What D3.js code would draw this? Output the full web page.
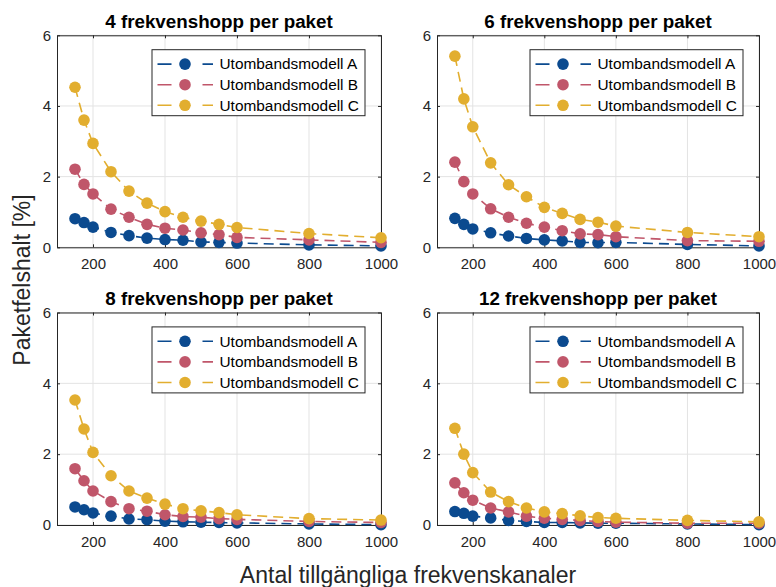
<!DOCTYPE html>
<html>
<head>
<meta charset="utf-8">
<script src="https://cdn.jsdelivr.net/npm/d3@7"></script>
<style>
  html, body { margin: 0; padding: 0; background: #fff; }
  svg { display: block; font-family: "Liberation Sans", Arial, Helvetica, sans-serif; }
</style>
</head>
<body>
<svg id="chart" width="776" height="587"></svg>
<script>
// Number of available channels (x values shared by all series)
const channels = [150, 175, 200, 250, 300, 350, 400, 450, 500, 550, 600, 800, 1000];

// Panel titles
const panelTitles = [
  "4 frekvenshopp per paket",
  "6 frekvenshopp per paket",
  "8 frekvenshopp per paket",
  "12 frekvenshopp per paket"
];

const seriesNames = ["Utombandsmodell A", "Utombandsmodell B", "Utombandsmodell C"];
const seriesColors = ["#0b4a8f", "#c0566a", "#e2ae2f"];

// Packet error rate [%] per panel, model A / B / C
const hop4A  = [0.81, 0.70, 0.57, 0.42, 0.33, 0.26, 0.22, 0.20, 0.15, 0.14, 0.12, 0.07, 0.04];
const hop4B  = [2.21, 1.78, 1.51, 1.08, 0.85, 0.65, 0.54, 0.49, 0.41, 0.36, 0.28, 0.21, 0.14];
const hop4C  = [4.53, 3.60, 2.94, 2.14, 1.59, 1.25, 1.01, 0.85, 0.74, 0.65, 0.56, 0.39, 0.27];

const hop6A  = [0.82, 0.65, 0.52, 0.41, 0.32, 0.25, 0.21, 0.18, 0.14, 0.13, 0.14, 0.08, 0.04];
const hop6B  = [2.41, 1.86, 1.51, 1.09, 0.85, 0.68, 0.57, 0.47, 0.38, 0.36, 0.30, 0.19, 0.17];
const hop6C  = [5.41, 4.20, 3.41, 2.39, 1.77, 1.43, 1.13, 0.96, 0.79, 0.71, 0.60, 0.42, 0.30];

const hop8A  = [0.51, 0.43, 0.34, 0.25, 0.17, 0.15, 0.11, 0.09, 0.08, 0.07, 0.06, 0.03, 0.01];
const hop8B  = [1.59, 1.25, 0.96, 0.66, 0.46, 0.39, 0.29, 0.24, 0.22, 0.18, 0.16, 0.10, 0.07];
const hop8C  = [3.53, 2.71, 2.05, 1.39, 0.96, 0.76, 0.59, 0.46, 0.40, 0.35, 0.29, 0.18, 0.14];

const hop12A = [0.38, 0.33, 0.25, 0.20, 0.13, 0.10, 0.07, 0.07, 0.06, 0.05, 0.05, 0.03, 0.01];
const hop12B = [1.19, 0.91, 0.70, 0.48, 0.37, 0.25, 0.19, 0.16, 0.13, 0.10, 0.08, 0.05, 0.05];
const hop12C = [2.73, 2.00, 1.48, 0.93, 0.66, 0.48, 0.37, 0.32, 0.26, 0.21, 0.19, 0.13, 0.09];

const panelData = [
  [hop4A, hop4B, hop4C],
  [hop6A, hop6B, hop6C],
  [hop8A, hop8B, hop8C],
  [hop12A, hop12B, hop12C]
];

const xTicks = [200, 400, 600, 800, 1000];
const yTicks = [0, 2, 4, 6];

const svg = d3.select("#chart");
const axisColor = "#262626";
const gridColor = "#e3e3e3";
const fontFamily = "'Liberation Sans', Arial, Helvetica, sans-serif";

// Panel boxes (left, top, width, height)
const panels = [
  { x: 57,  y: 35.3, w: 324, h: 212 },
  { x: 437, y: 35.3, w: 322, h: 212 },
  { x: 57,  y: 312.5, w: 324, h: 212.5 },
  { x: 437, y: 312.5, w: 322, h: 212.5 }
];

panels.forEach((p, i) => {
  const g = svg.append("g").attr("transform", `translate(${p.x},${p.y})`);
  const x = d3.scaleLinear().domain([100, 1000]).range([0, p.w]);
  const y = d3.scaleLinear().domain([0, 6]).range([p.h, 0]);

  // grid
  g.append("g").selectAll("line").data(xTicks).join("line")
    .attr("x1", d => x(d)).attr("x2", d => x(d))
    .attr("y1", 0).attr("y2", p.h)
    .attr("stroke", gridColor).attr("stroke-width", 1);
  g.append("g").selectAll("line").data(yTicks).join("line")
    .attr("y1", d => y(d)).attr("y2", d => y(d))
    .attr("x1", 0).attr("x2", p.w)
    .attr("stroke", gridColor).attr("stroke-width", 1);

  // axes: box outline with inward ticks
  const fmt = d3.format("d");
  const xAxis = d3.axisBottom(x).tickValues(xTicks).tickFormat(fmt).tickSizeInner(-3).tickSizeOuter(0).tickPadding(11);
  const yAxis = d3.axisLeft(y).tickValues(yTicks).tickFormat(fmt).tickSizeInner(-3).tickSizeOuter(0).tickPadding(6);
  const xTop = d3.axisTop(x).tickValues(xTicks).tickSizeInner(-3).tickSizeOuter(0).tickFormat("");
  const yRight = d3.axisRight(y).tickValues(yTicks).tickSizeInner(-3).tickSizeOuter(0).tickFormat("");

  [
    g.append("g").attr("transform", `translate(0,${p.h})`).call(xAxis),
    g.append("g").call(yAxis),
    g.append("g").call(xTop),
    g.append("g").attr("transform", `translate(${p.w},0)`).call(yRight)
  ].forEach(a => {
    a.selectAll("path").attr("stroke", axisColor).attr("stroke-width", 1);
    a.selectAll("line").attr("stroke", axisColor);
    a.selectAll("text").attr("fill", axisColor).style("font-size", "15px")
      .style("font-family", fontFamily);
  });

  // title
  g.append("text")
    .attr("x", p.w / 2).attr("y", -7.8)
    .attr("text-anchor", "middle")
    .style("font-weight", "bold").style("font-size", "18.8px")
    .attr("fill", "#000")
    .text(panelTitles[i]);

  // series
  const line = d3.line().x((d, k) => x(channels[k])).y(d => y(d));
  panelData[i].forEach((vals, s) => {
    const sg = g.append("g");
    sg.append("path").datum(vals)
      .attr("d", line)
      .attr("fill", "none")
      .attr("stroke", seriesColors[s])
      .attr("stroke-width", 1.6)
      .attr("stroke-dasharray", "10,6");
    sg.selectAll("circle").data(vals).join("circle")
      .attr("cx", (d, k) => x(channels[k]))
      .attr("cy", d => y(d))
      .attr("r", 5.8)
      .attr("fill", seriesColors[s]);
  });

  // legend
  const lg = g.append("g").attr("transform", `translate(${p.w - 229},${14.4})`);
  lg.append("rect").attr("width", 213).attr("height", 66)
    .attr("fill", "#fff").attr("stroke", axisColor).attr("stroke-width", 1);
  seriesNames.forEach((name, s) => {
    const cy = 14.4 + s * 20.6;
    lg.append("line").attr("x1", 5.5).attr("x2", 61).attr("y1", cy).attr("y2", cy)
      .attr("stroke", seriesColors[s]).attr("stroke-width", 1.6)
      .attr("stroke-dasharray", "14,31,11");
    lg.append("circle").attr("cx", 33).attr("cy", cy).attr("r", 5.8)
      .attr("fill", seriesColors[s]);
    lg.append("text").attr("x", 67.5).attr("y", cy + 5.4)
      .style("font-size", "15.4px").attr("fill", "#000")
      .text(name);
  });
});

// shared axis labels
svg.append("text")
  .attr("x", 408).attr("y", 583)
  .attr("text-anchor", "middle")
  .style("font-size", "23px").attr("fill", axisColor)
  .text("Antal tillgängliga frekvenskanaler");

svg.append("text")
  .attr("transform", "translate(30,280) rotate(-90)")
  .attr("text-anchor", "middle")
  .style("font-size", "23px").attr("fill", axisColor)
  .text("Paketfelshalt [%]");
</script>
</body>
</html>
